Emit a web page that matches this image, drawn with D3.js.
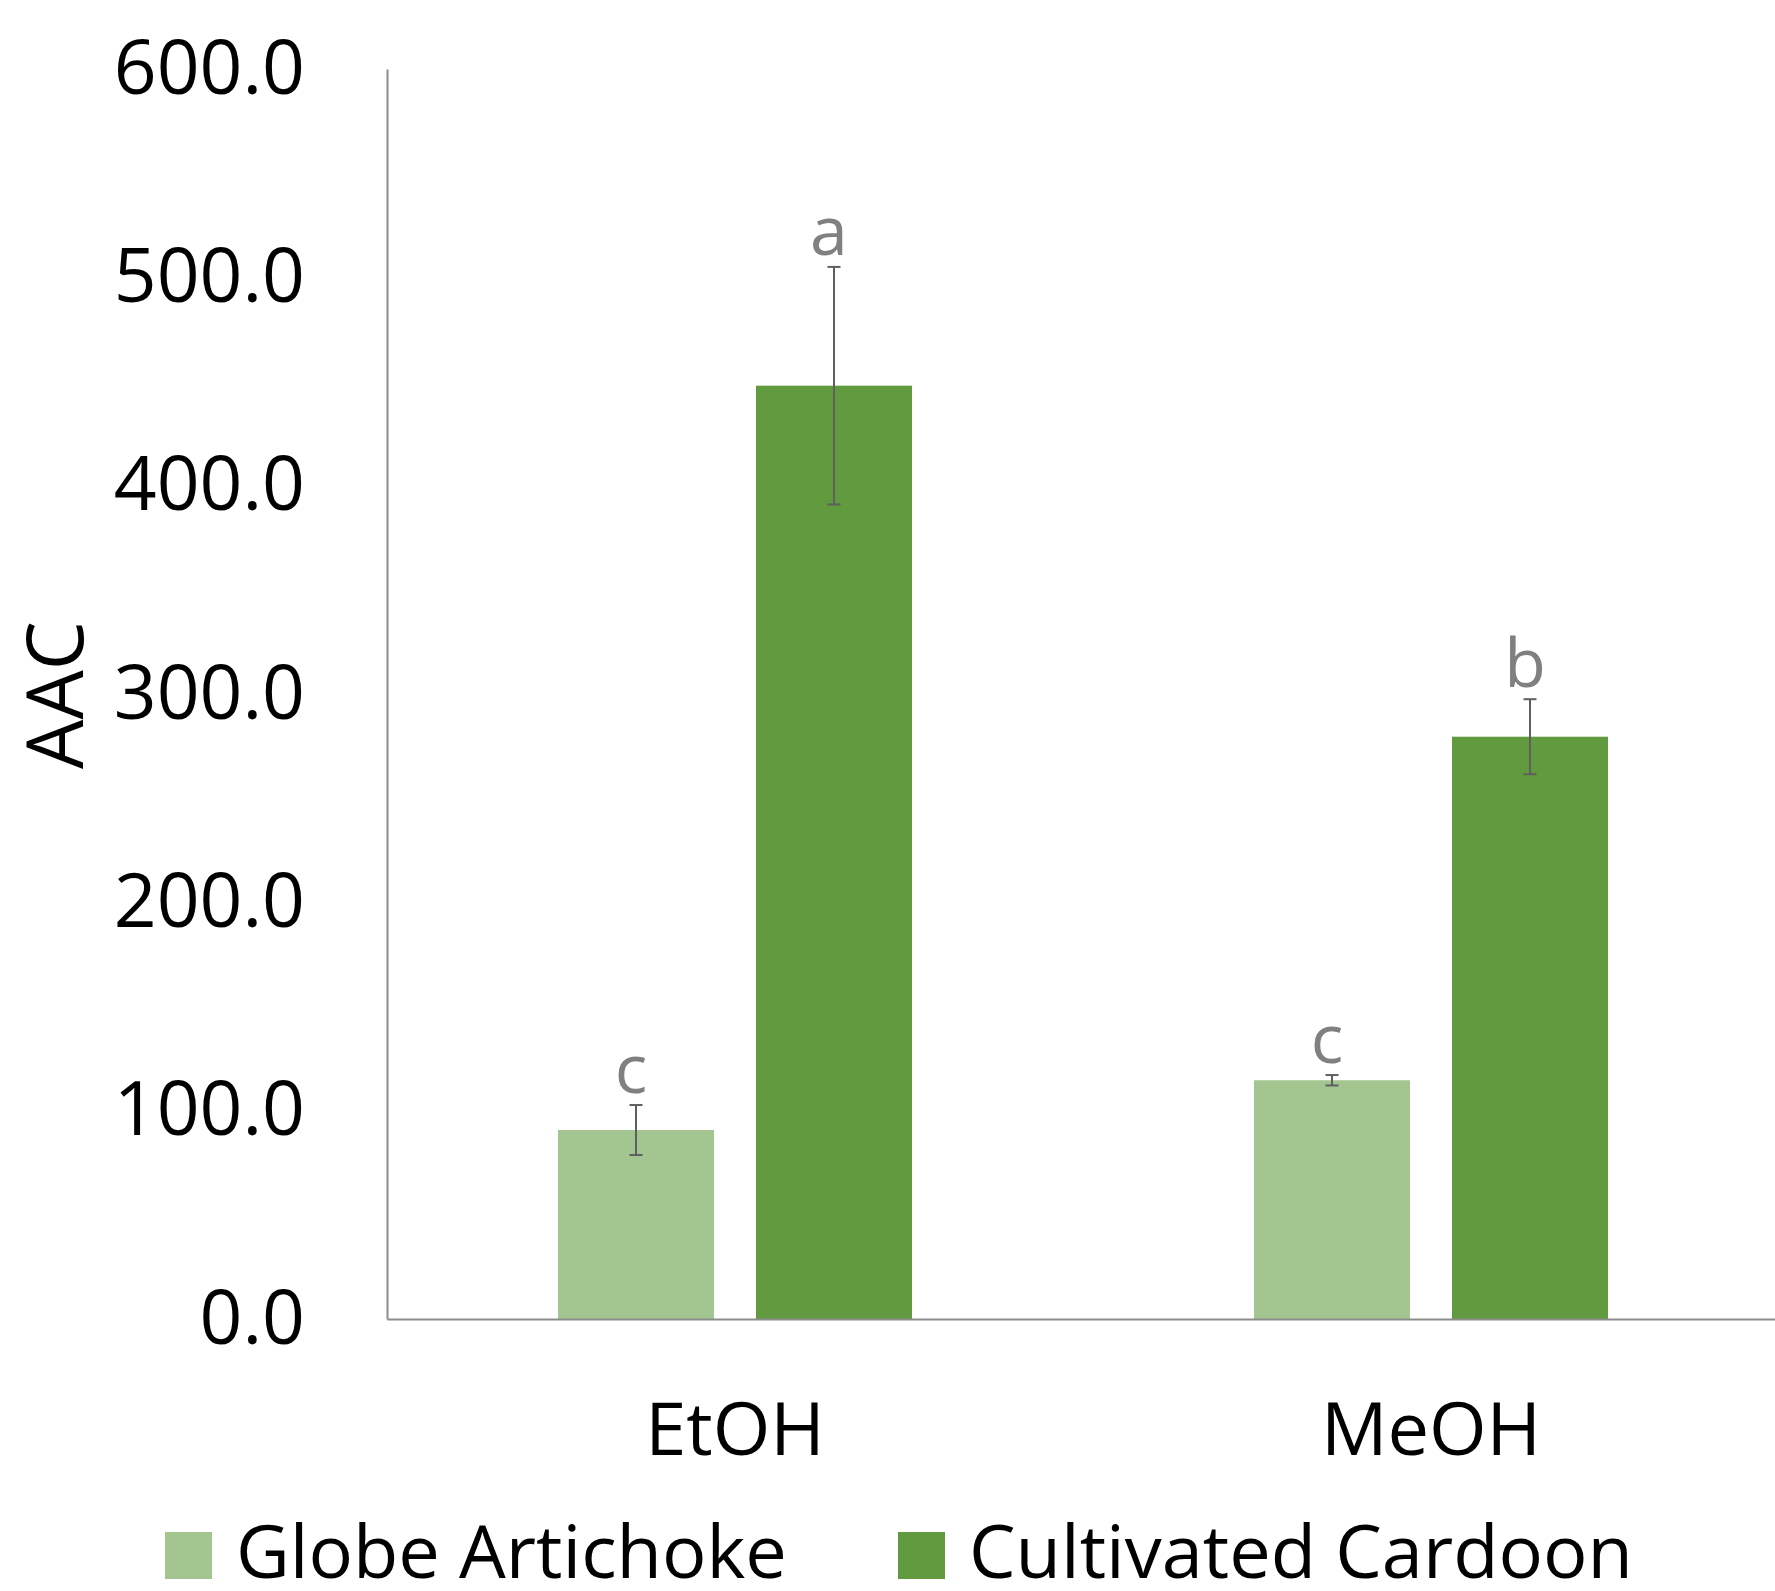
<!DOCTYPE html>
<html>
<head>
<meta charset="utf-8">
<script src="https://cdn.jsdelivr.net/npm/d3@7"></script>
<style>
  html, body { margin: 0; padding: 0; background: #ffffff; }
  text { font-family: "Open Sans", "Noto Sans", sans-serif; }
</style>
</head>
<body>
<div id="chart"></div>
<script>
// data
const categories = ["EtOH", "MeOH"];
const seriesNames = ["Globe Artichoke", "Cultivated Cardoon"];
const globeValues = [90.7, 114.6];
const cardoonValues = [448.0, 279.5];
const globeErrors = [12.0, 2.5];
const cardoonErrors = [57.0, 18.0];
const globeLetters = ["c", "c"];
const cardoonLetters = ["a", "b"];
const yTicks = [0, 100, 200, 300, 400, 500, 600];
const seriesColors = ["#a3c590", "#629a3f"];

const width = 1775, height = 1591;
const margin = { top: 69, right: 0, bottom: 272, left: 387 };

const svg = d3.select("#chart").append("svg")
    .attr("width", width)
    .attr("height", height)
    .attr("viewBox", `0 0 ${width} ${height}`);

// scales
const x = d3.scaleBand()
    .domain(categories)
    .range([margin.left, 1779])
    .padding(0);

const xInner = d3.scaleBand()
    .domain(seriesNames)
    .range([0, 354])
    .paddingInner(0.2121)
    .paddingOuter(0);

const y = d3.scaleLinear()
    .domain([0, 600])
    .range([height - margin.bottom, margin.top]);

// table of bars
const rows = [];
categories.forEach((c, i) => {
    rows.push({ cat: c, series: seriesNames[0], value: globeValues[i], err: globeErrors[i], letter: globeLetters[i], color: seriesColors[0] });
    rows.push({ cat: c, series: seriesNames[1], value: cardoonValues[i], err: cardoonErrors[i], letter: cardoonLetters[i], color: seriesColors[1] });
});

const groupOffset = (x.bandwidth() - 354) / 2;
const barX = d => x(d.cat) + groupOffset + xInner(d.series);
const barMid = d => barX(d) + xInner.bandwidth() / 2;

// bars
svg.append("g").selectAll("rect")
    .data(rows)
    .enter()
    .append("rect")
    .attr("x", barX)
    .attr("y", d => y(d.value))
    .attr("width", xInner.bandwidth())
    .attr("height", d => y(0) - y(d.value))
    .attr("fill", d => d.color);

// error bars
const errG = svg.append("g")
    .attr("stroke", "#5f5f5f")
    .attr("stroke-width", 2);
rows.forEach(d => {
    const cx = barMid(d);
    errG.append("line")
        .attr("x1", cx).attr("x2", cx)
        .attr("y1", y(d.value + d.err)).attr("y2", y(d.value - d.err));
    [d.value + d.err, d.value - d.err].forEach(v => {
        errG.append("line")
            .attr("x1", cx - 6.5).attr("x2", cx + 6.5)
            .attr("y1", y(v)).attr("y2", y(v));
    });
});

// significance letters
svg.append("g").selectAll("text")
    .data(rows)
    .enter()
    .append("text")
    .attr("x", d => barMid(d) - 5)
    .attr("y", d => y(d.value + d.err) - 12)
    .attr("text-anchor", "middle")
    .attr("font-size", "68px")
    .attr("fill", "#808080")
    .text(d => d.letter);

// y axis
const yAxis = d3.axisLeft(y)
    .tickValues(yTicks)
    .tickSize(0)
    .tickPadding(82)
    .tickFormat(d3.format(".1f"));

const yG = svg.append("g")
    .attr("transform", `translate(${margin.left},0)`)
    .call(yAxis);
yG.select(".domain").attr("stroke", "#8c8c8c").attr("stroke-width", 2);
yG.selectAll("text")
    .attr("font-size", "75px")
    .attr("fill", "#000000")
    .attr("font-family", "'Open Sans', sans-serif")
    .attr("dy", "0.32em");

// x axis
const xAxis = d3.axisBottom(x).tickSize(0).tickPadding(82);
const xG = svg.append("g")
    .attr("transform", `translate(0,${y(0)})`)
    .call(xAxis);
xG.select(".domain").attr("stroke", "#8c8c8c").attr("stroke-width", 2);
xG.selectAll("text")
    .attr("font-size", "74px")
    .attr("fill", "#000000")
    .attr("font-family", "'Open Sans', sans-serif")
    .attr("dy", "0")
    .attr("y", 136);

// y axis title
svg.append("text")
    .attr("transform", "translate(83,695) rotate(-90)")
    .attr("text-anchor", "middle")
    .attr("font-size", "78px")
    .attr("fill", "#000000")
    .text("AAC");

// legend
const legendItems = [
    { label: seriesNames[0], color: seriesColors[0], x: 165 },
    { label: seriesNames[1], color: seriesColors[1], x: 898 }
];
const legend = svg.append("g");
legendItems.forEach(item => {
    legend.append("rect")
        .attr("x", item.x).attr("y", 1532)
        .attr("width", 47).attr("height", 47)
        .attr("fill", item.color);
    legend.append("text")
        .attr("x", item.x + 71)
        .attr("y", 1578)
        .attr("font-size", "74px")
        .attr("fill", "#000000")
        .text(item.label);
});
</script>
</body>
</html>
